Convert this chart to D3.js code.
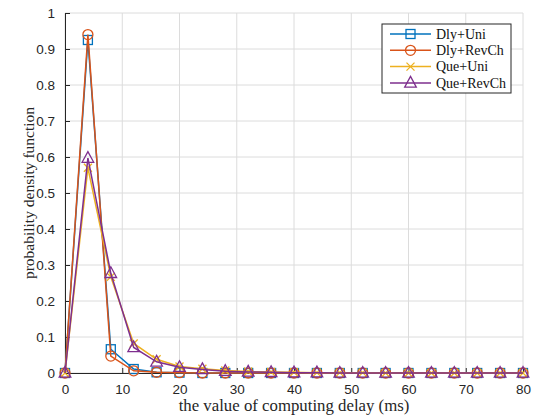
<!DOCTYPE html>
<html>
<head>
<meta charset="utf-8">
<script src="https://cdn.jsdelivr.net/npm/d3@7"></script>
<style>
  html, body { margin: 0; padding: 0; background: #fff; }
  svg { display: block; }
</style>
</head>
<body>
<svg id="chart" width="536" height="416"></svg>
<script>
// Computing delay (ms) sample points
const delays = [0, 4, 8, 12, 16, 20, 24, 28, 32, 36, 40, 44, 48, 52, 56, 60, 64, 68, 72, 76, 80];

// Probability density for each scheme
const dlyUni   = [0, 0.925, 0.066, 0.011, 0.002, 0.001, 0, 0, 0, 0, 0, 0, 0, 0, 0, 0, 0, 0, 0, 0, 0];
const dlyRevCh = [0, 0.940, 0.047, 0.006, 0.002, 0.001, 0, 0, 0, 0, 0, 0, 0, 0, 0, 0, 0, 0, 0, 0, 0];
const queUni   = [0, 0.570, 0.267, 0.082, 0.038, 0.018, 0.012, 0.007, 0.004, 0.003, 0.002, 0.001, 0.001, 0.001, 0, 0, 0, 0, 0, 0, 0];
const queRevCh = [0, 0.597, 0.277, 0.071, 0.031, 0.016, 0.010, 0.005, 0.003, 0.002, 0.001, 0.001, 0, 0, 0, 0, 0, 0, 0, 0, 0];

const seriesNames = ["Dly+Uni", "Dly+RevCh", "Que+Uni", "Que+RevCh"];
const seriesColors = ["#0072BD", "#D95319", "#EDB120", "#7E2F8E"];
const seriesMarkers = ["square", "circle", "cross", "triangle"];
const seriesValues = [dlyUni, dlyRevCh, queUni, queRevCh];

const xTicks = [0, 10, 20, 30, 40, 50, 60, 70, 80];
const yTicks = [0, 0.1, 0.2, 0.3, 0.4, 0.5, 0.6, 0.7, 0.8, 0.9, 1];

const svg = d3.select("#chart");
const margin = { left: 65, right: 13, top: 13, bottom: 43 };
const W = 536, H = 416;
const x = d3.scaleLinear().domain([0, 80]).range([margin.left, W - margin.right]);
const y = d3.scaleLinear().domain([0, 1]).range([H - margin.bottom, margin.top]);

const tickFont = "'Liberation Sans', Arial, sans-serif";
const labelFont = "'Liberation Serif', 'Times New Roman', serif";

// Grid lines
const grid = svg.append("g");
grid.selectAll("line.gx").data(xTicks).join("line")
  .attr("x1", d => x(d)).attr("x2", d => x(d))
  .attr("y1", y(0)).attr("y2", y(1))
  .attr("stroke", "#dcdcdc").attr("stroke-width", 1);
grid.selectAll("line.gy").data(yTicks).join("line")
  .attr("x1", x(0)).attr("x2", x(80))
  .attr("y1", d => y(d)).attr("y2", d => y(d))
  .attr("stroke", "#dcdcdc").attr("stroke-width", 1);

// Axes with inward ticks
const xAxis = d3.axisBottom(x).tickValues(xTicks).tickSizeInner(-5).tickSizeOuter(0).tickPadding(11);
const yAxis = d3.axisLeft(y).tickValues(yTicks).tickSizeInner(-5).tickSizeOuter(0).tickPadding(10)
  .tickFormat(d => d === 0 ? "0" : (d === 1 ? "1" : d3.format(".1f")(d)));

const gx = svg.append("g").attr("transform", `translate(0,${y(0)})`).call(xAxis);
const gy = svg.append("g").attr("transform", `translate(${x(0)},0)`).call(yAxis);
[gx, gy].forEach(g => {
  g.select(".domain").attr("stroke", "#262626").attr("stroke-width", 1);
  g.selectAll(".tick line").attr("stroke", "#262626");
  g.selectAll(".tick text").attr("fill", "#262626")
    .style("font-family", tickFont).style("font-size", "13.5px");
});

// Marker drawing
function drawMarker(sel, type, color) {
  if (type === "square") {
    sel.append("rect").attr("x", -4.5).attr("y", -4.5).attr("width", 9).attr("height", 9)
      .attr("fill", "none").attr("stroke", color).attr("stroke-width", 1.3);
  } else if (type === "circle") {
    sel.append("circle").attr("r", 5).attr("fill", "none").attr("stroke", color).attr("stroke-width", 1.3);
  } else if (type === "cross") {
    sel.append("path").attr("d", "M-4,-4L4,4M-4,4L4,-4")
      .attr("fill", "none").attr("stroke", color).attr("stroke-width", 1.3);
  } else if (type === "triangle") {
    sel.append("path").attr("d", "M0,-6.5L5.8,4.2L-5.8,4.2Z")
      .attr("fill", "none").attr("stroke", color).attr("stroke-width", 1.3);
  }
}

const line = d3.line().x(d => x(d[0])).y(d => y(d[1]));

seriesValues.forEach((vals, i) => {
  const pts = delays.map((d, j) => [d, vals[j]]);
  const g = svg.append("g");
  g.append("path").datum(pts).attr("d", line)
    .attr("fill", "none").attr("stroke", seriesColors[i]).attr("stroke-width", 1.5);
  pts.forEach(p => {
    const m = g.append("g").attr("transform", `translate(${x(p[0])},${y(p[1])})`);
    drawMarker(m, seriesMarkers[i], seriesColors[i]);
  });
});

// Legend
const lg = svg.append("g").attr("transform", "translate(382,24)");
lg.append("rect").attr("x", 0).attr("y", 0).attr("width", 129).attr("height", 69)
  .attr("fill", "#fff").attr("stroke", "#262626").attr("stroke-width", 1);
seriesNames.forEach((name, i) => {
  const row = lg.append("g").attr("transform", `translate(0,${10 + i * 16.3})`);
  row.append("line").attr("x1", 8).attr("x2", 49).attr("y1", 0).attr("y2", 0)
    .attr("stroke", seriesColors[i]).attr("stroke-width", 1.5);
  const m = row.append("g").attr("transform", "translate(28.5,0)");
  drawMarker(m, seriesMarkers[i], seriesColors[i]);
  row.append("text").attr("x", 54).attr("y", 4.8).text(name)
    .attr("fill", "#111").style("font-family", labelFont).style("font-size", "14px");
});

// Axis labels
svg.append("text").attr("x", (x(0) + x(80)) / 2).attr("y", 411)
  .attr("text-anchor", "middle").text("the value of computing delay (ms)")
  .attr("fill", "#262626").style("font-family", labelFont).style("font-size", "16.8px");
svg.append("text")
  .attr("transform", `translate(34,${(y(0) + y(1)) / 2}) rotate(-90)`)
  .attr("text-anchor", "middle").text("probability density function")
  .attr("fill", "#262626").style("font-family", labelFont).style("font-size", "15.5px");
</script>
</body>
</html>
